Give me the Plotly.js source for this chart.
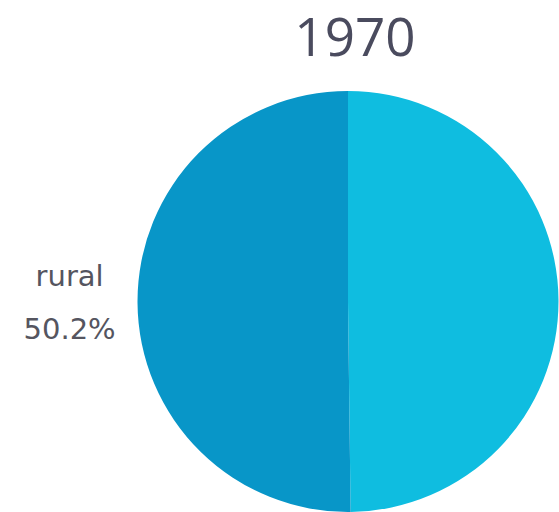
<!DOCTYPE html>
<html>
<head>
<meta charset="utf-8">
<script src="https://cdn.plot.ly/plotly-3.0.1.min.js"></script>
<style>html,body{margin:0;padding:0;background:#fff;overflow:hidden}</style>
</head>
<body>
<div id="chart" style="width:559px;height:512px"></div>
<script>
const chartTitle = "1970";
const categories = ["urban", "rural"];
const shares = [49.8, 50.2];
const sliceColors = ["#0fbde0", "#0896c8"];

Plotly.newPlot("chart", [{
  type: "pie",
  labels: categories,
  values: shares,
  sort: false,
  direction: "clockwise",
  rotation: 0,
  marker: {colors: sliceColors, line: {width: 0}},
  textposition: ["none", "outside"],
  texttemplate: "<span style='font-size:29px'>%{label}</span><br><span style='font-size:29px'>%{percent:.1%}</span>",
  outsidetextfont: {family: "DejaVu Sans", size: 41, color: "#55555f"},
  hoverinfo: "none",
  showlegend: false
}], {
  width: 559, height: 512,
  margin: {l: 137, r: 0, t: 91, b: 0},
  paper_bgcolor: "#ffffff",
  title: {
    text: chartTitle,
    font: {family: "Open Sans", size: 53, color: "#4a4b5e"},
    x: 0.635, xanchor: "center", xref: "container",
    y: 0.926, yanchor: "middle", yref: "container"
  },
  showlegend: false
}, {displayModeBar: false, staticPlot: true});
</script>
</body>
</html>
